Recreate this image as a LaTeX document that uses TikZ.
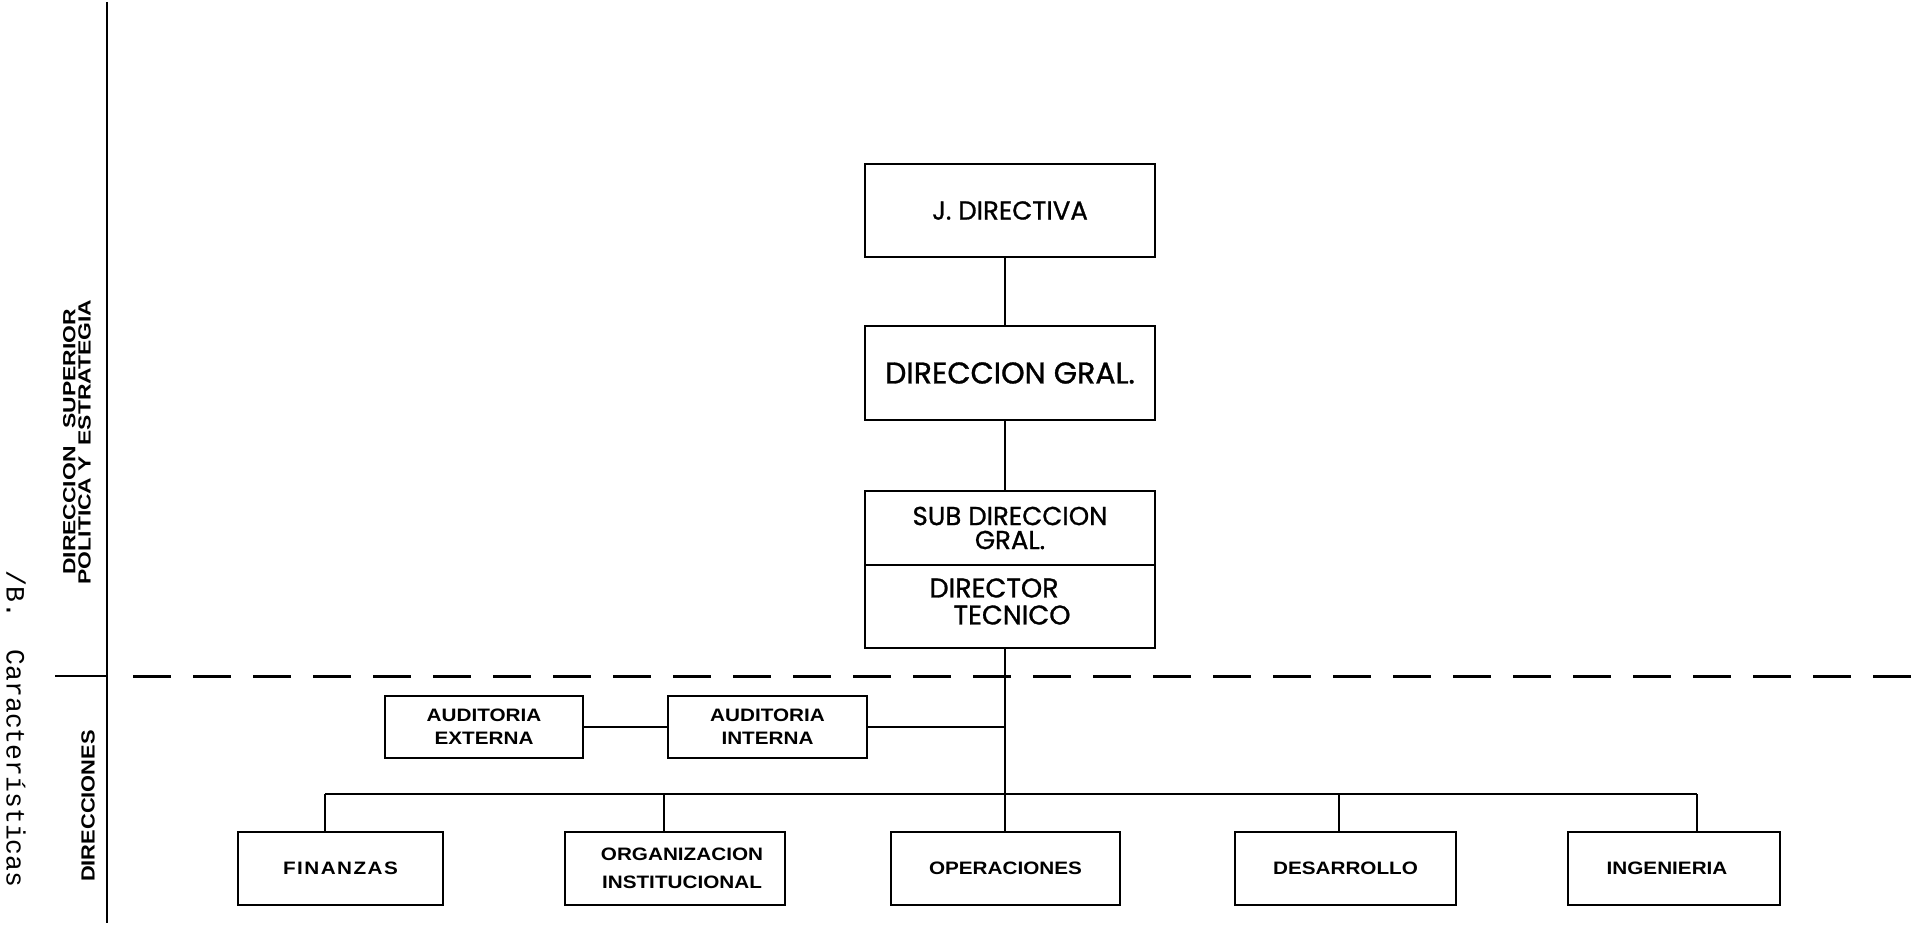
\documentclass[tikz,border=0pt]{standalone}
\usepackage{fontspec}
\setmainfont{Liberation Sans}
\newfontfamily\geofont[FakeBold=1]{Poppins}
\newfontfamily\gridfont[FakeStretch=1.15]{Liberation Sans}
\newfontfamily\sidefont[FakeStretch=1.3]{Liberation Sans}
\newfontfamily\typefont{Liberation Mono}

\begin{document}
\begin{tikzpicture}[x=0.5pt,y=-0.5pt,
  frame/.style={draw, line width=1.3pt, inner sep=0pt, align=center},
  topbox/.style={frame, minimum width=145pt},
  unit/.style={frame, minimum height=36.5pt,
    font=\gridfont\bfseries\fontsize{9}{14}\selectfont},
  audit/.style={frame, minimum height=31pt,
    font=\gridfont\bfseries\fontsize{9}{11.5}\selectfont},
  link/.style={line width=1.1pt},
  rule/.style={line width=1.4pt},
  ]
\useasboundingbox (0,0) rectangle (1930,925);

% page rule on the left and the level separator
\coordinate (ruleT) at (107,2);
\coordinate (ruleB) at (107,923);
\coordinate (tickL) at (55,676);
\coordinate (tickR) at (107,676);
\coordinate (dashL) at (133,676);
\coordinate (dashR) at (1928,676);
\draw[rule] (ruleT) -- (ruleB);
\draw[rule] (tickL) -- (tickR);
\draw[line width=1.5pt, dash pattern=on 19pt off 11pt] (dashL) -- (dashR);

% level labels
\node[rotate=90, align=center,
  font=\sidefont\bfseries\fontsize{8.8}{7.6}\selectfont] (lvlTop) at (77,442)
  {DIRECCION\hspace{1em}SUPERIOR\\POLITICA Y\hspace{0.6em}ESTRATEGIA};
\node[rotate=90, font=\gridfont\bfseries\fontsize{9.5}{10}\selectfont]
  (lvlLow) at (88,806) {DIRECCIONES};
\node[rotate=-90, font=\typefont\fontsize{13.2}{14}\selectfont]
  (margin) at (16,729) {/B.\ \ Características};

% top management
\node[topbox, minimum height=46.5pt, font=\geofont\fontsize{13}{14}\selectfont]
  (jd) at (1010,210.5) {\raisebox{-2.5pt}{J. DIRECTIVA}};
\node[topbox, minimum height=47pt, font=\geofont\fontsize{15}{16}\selectfont]
  (dg) at (1010,373) {DIRECCION GRAL.};
\node[topbox, minimum height=37pt, font=\geofont\fontsize{13}{12}\selectfont]
  (sub) at (1010,528) {SUB DIRECCION\\GRAL.};
\node[topbox, minimum height=41.5pt] (dt) at (1010,606.5) {};
\node[align=left, inner sep=0pt, font=\geofont\fontsize{13.5}{13.5}\selectfont]
  (dtText) at (1000,601.5) {DIRECTOR\\\hspace*{12pt}TECNICO};

% audit units
\node[audit, minimum width=99pt] (ae) at (484,727) {AUDITORIA\\EXTERNA};
\node[audit, minimum width=99.5pt] (ai) at (767.5,727) {AUDITORIA\\INTERNA};

% operating directions
\node[unit, minimum width=102.5pt] (fin) at (340.5,868.5)
  {\addfontfeature{LetterSpace=8}FINANZAS};
\node[unit, minimum width=110pt] (org) at (675,868.5)
  {\hspace*{7pt}ORGANIZACION\\\hspace*{7pt}INSTITUCIONAL};
\node[unit, minimum width=114.5pt] (ope) at (1005.5,868.5) {OPERACIONES};
\node[unit, minimum width=110.5pt] (des) at (1345.5,868.5) {DESARROLLO};
\node[unit, minimum width=106pt] (ing) at (1674,868.5) {INGENIERIA\hspace*{7pt}};

% connectors
\coordinate (trunk) at (1005,0);
\coordinate (d1) at (325,794);
\coordinate (d2) at (664,794);
\coordinate (d4) at (1339,794);
\coordinate (d5) at (1697,794);

\draw[link] (jd.south -| trunk) -- (dg.north -| trunk);
\draw[link] (dg.south -| trunk) -- (sub.north -| trunk);
\draw[link] (dt.south -| trunk) -- (ope.north -| trunk);
\draw[link] (ai.east) -- (ai.east -| trunk);
\draw[link] (ae.east) -- (ai.west);
\draw[link] (d1) -- (d5);
\draw[link] (d1) -- (d1 |- fin.north);
\draw[link] (d2) -- (d2 |- org.north);
\draw[link] (d4) -- (d4 |- des.north);
\draw[link] (d5) -- (d5 |- ing.north);
\end{tikzpicture}
\end{document}
